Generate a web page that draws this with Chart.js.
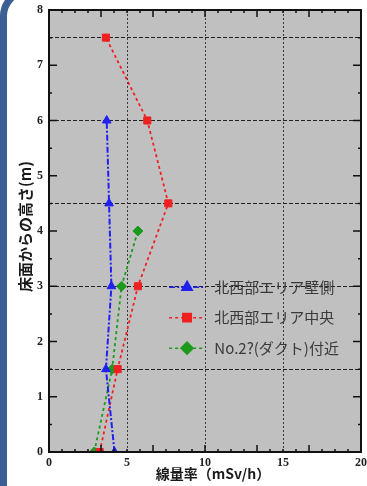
<!DOCTYPE html>
<html>
<head>
<meta charset="utf-8">
<script src="https://cdn.jsdelivr.net/npm/chart.js@4.4.0/dist/chart.umd.min.js"></script>
<style>
html, body { margin: 0; padding: 0; background: #fff; overflow: hidden; }
#wrap { position: relative; width: 367px; height: 486px; }
#frame { position: absolute; left: 0; top: -12px; width: 520px; height: 620px; border: 7px solid #3b5f92; border-radius: 28px; box-sizing: border-box; }
canvas { position: absolute; left: 0; top: 0; }
</style>
</head>
<body>
<div id="wrap">
  <div id="frame"></div>
  <canvas id="chart" width="367" height="486"></canvas>
</div>
<script>
// 凡例ラベル
const seriesLabels = ['北西部エリア壁側', '北西部エリア中央', 'No.2?(ダクト)付近'];

// 床面からの高さ (m) と線量率 (mSv/h)
const wallHeights = [0, 1.5, 3, 4.5, 6];
const wallRates = [4.2, 3.65, 4.0, 3.85, 3.7];

const centerHeights = [0, 1.5, 3, 4.5, 6, 7.5];
const centerRates = [3.25, 4.4, 5.7, 7.65, 6.3, 3.65];

const ductHeights = [0, 1.5, 3, 4];
const ductRates = [2.9, 4.05, 4.65, 5.7];

// 軸
const xTicks = [0, 5, 10, 15, 20];
const yTicks = [0, 1, 2, 3, 4, 5, 6, 7, 8];
const xGridValues = [5, 10, 15];
const yGridValues = [1.5, 3, 4.5, 6, 7.5];

const xTitle = '線量率（mSv/h）';
const yTitle = '床面からの高さ(m)';

function toPoints(xs, ys) {
    return xs.map((x, i) => ({ x: x, y: ys[i] }));
}

const tickFont = { family: 'Liberation Serif', size: 12, weight: 'bold' };

const paperPlugin = {
    id: 'paper',
    beforeDraw(chart) {
        const { ctx, chartArea: a } = chart;
        ctx.save();
        ctx.fillStyle = '#c0c0c0';
        ctx.fillRect(a.left, a.top, a.right - a.left, a.bottom - a.top);
        ctx.restore();
    },
    afterDatasetsDraw(chart) {
        // 凡例（グラフ内）
        const { ctx, chartArea: a } = chart;
        const w = a.right - a.left, h = a.bottom - a.top;
        const x0 = a.left + w * 0.385, x1 = a.left + w * 0.50;
        const textX = a.left + w * 0.53;
        ctx.save();
        chart.data.datasets.forEach((ds, i) => {
            const y = a.top + h * (0.627 + i * 0.069);
            ctx.strokeStyle = ds.borderColor;
            ctx.lineWidth = 1.5;
            ctx.setLineDash(ds.borderDash);
            ctx.beginPath();
            ctx.moveTo(x0, y);
            ctx.lineTo(x1, y);
            ctx.stroke();
            ctx.setLineDash([]);
            ctx.fillStyle = ds.pointBackgroundColor;
            Chart.helpers.drawPoint(ctx, {
                pointStyle: ds.pointStyle, radius: ds.pointRadius + 1, rotation: 0, borderWidth: 1
            }, (x0 + x1) / 2, y);
            ctx.fillStyle = '#3a3a3a';
            ctx.font = '15px "Noto Sans CJK JP"';
            ctx.textBaseline = 'middle';
            ctx.textAlign = 'left';
            ctx.fillText(ds.label, textX, y);
        });
        ctx.restore();
    },
    afterDraw(chart) {
        const { ctx, chartArea: a } = chart;
        const xs = chart.scales.x, ys = chart.scales.y;
        ctx.save();
        // 枠
        ctx.strokeStyle = '#111';
        ctx.lineWidth = 2;
        ctx.strokeRect(a.left, a.top, a.right - a.left, a.bottom - a.top);
        // 内向きの目盛り
        ctx.lineWidth = 1.5;
        ctx.beginPath();
        for (let v = 0; v <= 8.001; v += 0.5) {
            const py = ys.getPixelForValue(v);
            const len = Number.isInteger(v) ? 8 : 3;
            ctx.moveTo(a.left, py); ctx.lineTo(a.left + len, py);
            ctx.moveTo(a.right, py); ctx.lineTo(a.right - len, py);
        }
        for (let k = 1; k < 24; k++) {
            const v = k * 10 / 12;
            const px = xs.getPixelForValue(v);
            const len = k % 4 === 0 ? 7 : 3;
            ctx.moveTo(px, a.bottom); ctx.lineTo(px, a.bottom - len);
            ctx.moveTo(px, a.top); ctx.lineTo(px, a.top + len);
        }
        ctx.stroke();
        // 軸タイトル
        ctx.fillStyle = '#1a1a1a';
        ctx.textAlign = 'center';
        ctx.textBaseline = 'middle';
        ctx.font = 'bold 14px "Noto Sans CJK JP"';
        ctx.fillText(xTitle, (a.left + a.right) / 2 + 8, chart.height - 12);
        ctx.translate(25, a.top + (a.bottom - a.top) * 0.49);
        ctx.rotate(-Math.PI / 2);
        ctx.font = 'bold 15px "Noto Sans CJK JP"';
        ctx.fillText(yTitle, 0, 0);
        ctx.restore();
    }
};

const ctx = document.getElementById('chart').getContext('2d');
const myChart = new Chart(ctx, {
    type: 'scatter',
    data: {
        datasets: [{
            label: seriesLabels[0],
            data: toPoints(wallRates, wallHeights),
            showLine: true,
            borderColor: '#2020f0',
            backgroundColor: '#2020f0',
            pointBackgroundColor: '#2020f0',
            borderWidth: 2,
            borderDash: [6, 2, 2, 2],
            pointStyle: 'triangle',
            pointRadius: 5,
            pointBorderWidth: 1
        }, {
            label: seriesLabels[1],
            data: toPoints(centerRates, centerHeights),
            showLine: true,
            borderColor: '#f02020',
            backgroundColor: '#f02020',
            pointBackgroundColor: '#f02020',
            borderWidth: 1.8,
            borderDash: [3, 3],
            pointStyle: 'rect',
            pointRadius: 5,
            pointBorderWidth: 1
        }, {
            label: seriesLabels[2],
            data: toPoints(ductRates, ductHeights),
            showLine: true,
            borderColor: '#1c9a1c',
            backgroundColor: '#1c9a1c',
            pointBackgroundColor: '#1c9a1c',
            borderWidth: 1.8,
            borderDash: [3, 3],
            pointStyle: 'rectRot',
            pointRadius: 5,
            pointBorderWidth: 1
        }]
    },
    options: {
        responsive: false,
        animation: false,
        layout: { padding: { left: 0, top: 10, right: 2, bottom: 0 } },
        plugins: {
            legend: { display: false },
            tooltip: { enabled: false }
        },
        scales: {
            x: {
                type: 'linear',
                min: 0,
                max: 20,
                afterBuildTicks: s => { s.ticks = xTicks.map(v => ({ value: v })); },
                afterFit: s => { s.height = 34; s.paddingLeft = 0; s.paddingRight = 0; },
                ticks: { color: '#222', font: tickFont, padding: 4, maxRotation: 0 },
                border: { display: false, dash: [2, 2] },
                grid: {
                    drawTicks: false,
                    lineWidth: 1,
                    color: c => (c.tick && xGridValues.includes(c.tick.value)) ? '#3a3a3a' : 'rgba(0,0,0,0)'
                }
            },
            y: {
                type: 'linear',
                min: 0,
                max: 8,
                afterBuildTicks: s => {
                    const t = [];
                    for (let v = 0; v <= 8; v += 0.5) t.push({ value: v });
                    s.ticks = t;
                },
                afterFit: s => { s.width = 49; s.paddingTop = 0; s.paddingBottom = 0; },
                ticks: {
                    color: '#222',
                    font: tickFont,
                    padding: 6,
                    callback: v => yTicks.includes(v) ? String(v) : ''
                },
                border: { display: false, dash: [4, 2] },
                grid: {
                    drawTicks: false,
                    lineWidth: 1,
                    color: c => (c.tick && yGridValues.includes(c.tick.value)) ? '#222' : 'rgba(0,0,0,0)'
                }
            }
        }
    },
    plugins: [paperPlugin]
});
</script>
</body>
</html>
